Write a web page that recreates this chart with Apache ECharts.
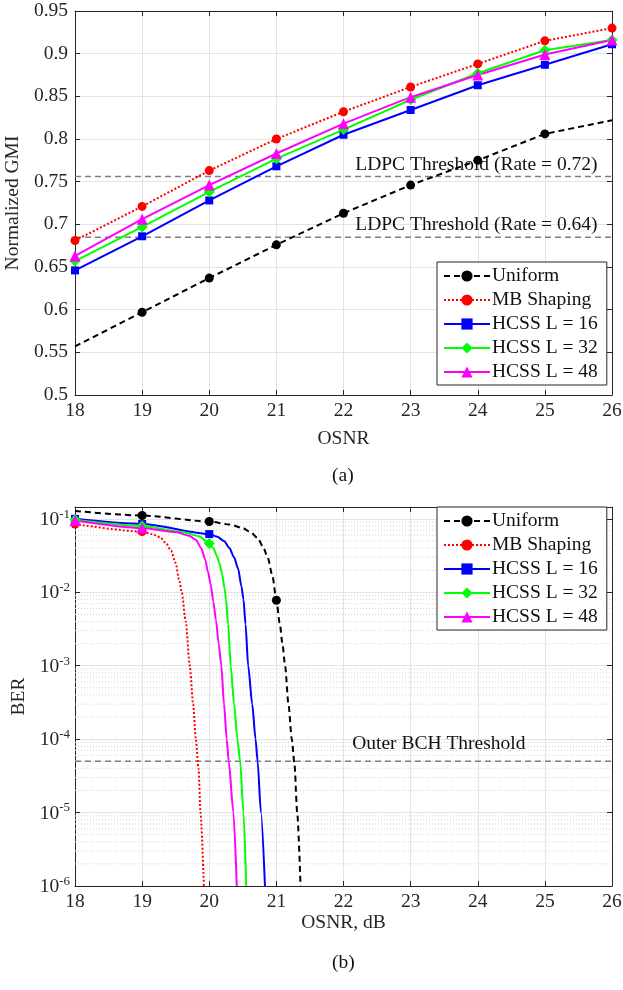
<!DOCTYPE html>
<html>
<head>
<meta charset="utf-8">
<script src="https://cdn.jsdelivr.net/npm/echarts@6/dist/echarts.min.js"></script>
<style>
html,body{margin:0;padding:0;background:#fff;}
#c{width:623px;height:990px;}
</style>
</head>
<body>
<div id="c"></div>
<script>
// ---------- Data: (a) Normalized GMI ----------
var osnr = [18, 19, 20, 21, 22, 23, 24, 25, 26];
var gmiUniform = [0.557, 0.597, 0.637, 0.676, 0.713, 0.746, 0.775, 0.806, 0.822];
var gmiMB      = [0.681, 0.721, 0.763, 0.800, 0.832, 0.861, 0.888, 0.915, 0.930];
var gmiL16     = [0.646, 0.686, 0.728, 0.768, 0.805, 0.834, 0.863, 0.887, 0.911];
var gmiL32     = [0.657, 0.697, 0.738, 0.777, 0.811, 0.846, 0.877, 0.904, 0.916];
var gmiL48     = [0.663, 0.706, 0.746, 0.783, 0.818, 0.849, 0.875, 0.899, 0.916];
var uniformMarkerX = [19, 20, 21, 22, 23, 24, 25];
var ldpcThresholds = [0.756, 0.685];
var ldpcLabels = ['LDPC Threshold (Rate = 0.72)', 'LDPC Threshold (Rate = 0.64)'];
var ldpcLabelX = 23.98;

// ---------- Data: (b) BER ----------
var berUniform = [[18,0.128],[19,0.111],[20,0.092],[20.3,0.084],[20.5,0.075],[20.62,0.065],[20.72,0.055],[20.8,0.042],[20.87,0.03],[20.94,0.017],[21,0.0078],[21.05,0.0038],[21.09,0.002],[21.13,0.001],[21.18,3e-4],[21.23,1e-4],[21.27,4.5e-5],[21.31,1e-5],[21.36,1e-6]];
var berMB      = [[18,0.085],[19,0.067],[19.15,0.062],[19.27,0.056],[19.36,0.046],[19.43,0.037],[19.5,0.025],[19.55,0.015],[19.59,0.01],[19.65,0.004],[19.71,1e-3],[19.76,3e-4],[19.8,1e-4],[19.84,4e-5],[19.87,1e-5],[19.92,1e-6]];
var berL16     = [[18,0.1],[19,0.085],[20,0.062],[20.12,0.057],[20.22,0.05],[20.3,0.04],[20.37,0.03],[20.43,0.021],[20.48,0.012],[20.51,0.008],[20.54,0.0037],[20.58,1e-3],[20.64,3e-4],[20.69,1e-4],[20.72,5e-5],[20.77,1e-5],[20.83,1e-6]];
var berL32     = [[18,0.097],[19,0.08],[19.6,0.066],[19.85,0.058],[20,0.046],[20.06,0.04],[20.11,0.032],[20.15,0.025],[20.19,0.018],[20.23,0.011],[20.25,0.008],[20.28,0.0037],[20.32,1e-3],[20.37,3e-4],[20.42,1e-4],[20.46,5e-5],[20.51,1e-5],[20.55,1e-6]];
var berL48     = [[18,0.095],[19,0.075],[19.5,0.066],[19.7,0.059],[19.8,0.052],[19.88,0.04],[19.94,0.028],[19.98,0.019],[20.02,0.013],[20.06,0.0075],[20.1,0.0042],[20.14,0.002],[20.18,1e-3],[20.22,3e-4],[20.26,1e-4],[20.29,5e-5],[20.36,1e-5],[20.41,1e-6]];
var berMarkers = {
  'Uniform': [19, 20, 21],
  'MB Shaping': [18, 19],
  'HCSS L = 16': [18, 19, 20],
  'HCSS L = 32': [18, 19, 20],
  'HCSS L = 48': [18, 19, 20]
};
var bchThreshold = 5e-5;
var bchLabel = 'Outer BCH Threshold';
var bchLabelX = 23.42;
var xTickMin = 18, xTickMax = 26;
var berMin = 1e-6, berMax = 0.145;
var logDecades = [-6, -5, -4, -3, -2, -1];

// ---------- Styles ----------
var FONT = 'Liberation Serif';
var FS = 19.5;
var names = ['Uniform', 'MB Shaping', 'HCSS L = 16', 'HCSS L = 32', 'HCSS L = 48'];
var styles = {
  'Uniform':     {color:'#000000', type:[6,4], symbol:'circle', size:9},
  'MB Shaping':  {color:'#ff0000', type:[2,2], symbol:'circle', size:9},
  'HCSS L = 16': {color:'#0000ff', type:'solid', symbol:'rect', size:8},
  'HCSS L = 32': {color:'#00ff00', type:'solid', symbol:'diamond', size:11},
  'HCSS L = 48': {color:'#ff00ff', type:'solid', symbol:'triangle', size:11}
};
var gridColor = '#e3e3e3';

function topData(name, vals) {
  return vals.map(function (v, i) {
    var x = osnr[i];
    var show = name === 'Uniform' ? uniformMarkerX.indexOf(x) >= 0 : true;
    return show ? {value:[x, v]} : {value:[x, v], symbol:'none'};
  });
}
function botData(name, pts) {
  var mk = berMarkers[name];
  return pts.map(function (p) {
    return mk.indexOf(p[0]) >= 0 ? {value:p} : {value:p, symbol:'none'};
  });
}
function mkSeries(name, data, xi, yi, smooth) {
  var s = styles[name];
  return {
    name: name, type: 'line', xAxisIndex: xi, yAxisIndex: yi,
    data: data, symbol: s.symbol, symbolSize: s.size, showAllSymbol: true,
    smooth: smooth ? 0.25 : false, smoothMonotone: smooth ? 'x' : undefined,
    lineStyle: {color: s.color, width: 2, type: s.type},
    itemStyle: {color: s.color, borderWidth: 0},
    emphasis: {disabled: true}, animation: false, z: 5
  };
}
function hLines(values, xi, yi, style, z) {
  var d = [];
  values.forEach(function (v) { d.push([xTickMin, v], [xTickMax, v], [xTickMin, '-']); });
  return {
    type: 'line', xAxisIndex: xi, yAxisIndex: yi, data: d, symbol: 'none', silent: true,
    connectNulls: false, lineStyle: style, z: z, animation: false, emphasis: {disabled: true}, tooltip: {show: false}
  };
}

var series = [];
var topVals = {'Uniform': gmiUniform, 'MB Shaping': gmiMB, 'HCSS L = 16': gmiL16, 'HCSS L = 32': gmiL32, 'HCSS L = 48': gmiL48};
var botVals = {'Uniform': berUniform, 'MB Shaping': berMB, 'HCSS L = 16': berL16, 'HCSS L = 32': berL32, 'HCSS L = 48': berL48};
names.forEach(function (n) { series.push(mkSeries(n, topData(n, topVals[n]), 0, 0, false)); });
names.forEach(function (n) { series.push(mkSeries(n, botData(n, botVals[n]), 2, 2, true)); });

var thrStyle = {color: '#808080', width: 1.5, type: [6, 4]};
// threshold lines (a)
var thrA = hLines(ldpcThresholds, 0, 0, thrStyle, 3);
thrA.markPoint = {
  silent: true, symbol: 'circle', symbolSize: 0, animation: false,
  label: {show: true, position: 'top', distance: 2, color: '#111', fontFamily: FONT, fontSize: FS},
  data: ldpcThresholds.map(function (t, i) {
    return {coord: [ldpcLabelX, t], label: {formatter: ldpcLabels[i]}};
  })
};
series.push(thrA);

// minor grid (b)
var minorVals = [];
logDecades.forEach(function (e) {
  for (var k = 2; k <= 9; k++) {
    var v = k * Math.pow(10, e);
    if (v < berMax) minorVals.push(v);
  }
});
series.push(hLines(minorVals, 2, 2, {color: '#d2d2d2', width: 1, type: [1, 2]}, 1));

// BCH threshold (b)
var thrB = hLines([bchThreshold], 2, 2, thrStyle, 3);
thrB.markPoint = {
  silent: true, symbol: 'circle', symbolSize: 0, animation: false,
  label: {show: true, position: 'top', distance: 7, color: '#111', fontFamily: FONT, fontSize: FS, formatter: bchLabel},
  data: [{coord: [bchLabelX, bchThreshold]}]
};
series.push(thrB);

var axisTextStyle = {color: '#262626', fontFamily: FONT, fontSize: FS};
function xAx(gi, pos, labels, name, gap) {
  return {
    type: 'value', gridIndex: gi, position: pos, min: xTickMin, max: xTickMax, interval: 1,
    axisLine: {show: true, onZero: false, lineStyle: {color: '#262626', width: 1}},
    axisTick: {show: true, inside: true, length: 5, lineStyle: {color: '#262626'}},
    axisLabel: labels ? Object.assign({show: true, margin: 6}, axisTextStyle) : {show: false},
    splitLine: {show: labels, lineStyle: {color: gridColor, width: 1}},
    name: name || '', nameLocation: 'middle', nameGap: gap || 30, nameTextStyle: axisTextStyle
  };
}
var yTop = function (pos, labels) {
  return {
    type: 'value', gridIndex: 0, position: pos, min: 0.5, max: 0.95, interval: 0.05,
    axisLine: {show: true, lineStyle: {color: '#262626', width: 1}},
    axisTick: {show: true, inside: true, length: 5, lineStyle: {color: '#262626'}},
    axisLabel: labels ? Object.assign({show: true, margin: 7, formatter: function (v) { return String(+v.toFixed(2)); }}, axisTextStyle) : {show: false},
    splitLine: {show: labels, lineStyle: {color: gridColor, width: 1}},
    name: labels ? 'Normalized GMI' : '', nameLocation: 'middle', nameGap: 44, nameRotate: 90, nameTextStyle: axisTextStyle
  };
};
var yBot = function (pos, labels) {
  return {
    type: 'log', logBase: 10, gridIndex: 1, position: pos, min: berMin, max: berMax, interval: 1,
    axisLine: {show: true, lineStyle: {color: '#262626', width: 1}},
    axisTick: {show: true, inside: true, length: 5, lineStyle: {color: '#262626'}},
    axisLabel: labels ? {
      show: true, margin: 5, color: '#262626', fontFamily: FONT,
      formatter: function (v) {
        var l = Math.log10(v), e = Math.round(l);
        if (Math.abs(l - e) > 1e-6) return '';
        return '{b|10}{s|' + e + '}';
      },
      rich: {
        b: {fontFamily: FONT, fontSize: FS, color: '#262626', lineHeight: 22, verticalAlign: 'bottom'},
        s: {fontFamily: FONT, fontSize: 13, color: '#262626', lineHeight: 22, verticalAlign: 'top'}
      }
    } : {show: false},
    splitLine: {show: labels, lineStyle: {color: gridColor, width: 1}},
    name: labels ? 'BER' : '', nameLocation: 'middle', nameGap: 46, nameRotate: 90, nameTextStyle: axisTextStyle
  };
};

function legendCfg(top) {
  return {
    data: names, orient: 'vertical', left: 437, top: top,
    backgroundColor: '#fff', borderColor: '#262626', borderWidth: 1,
    padding: [4, 9, 3, 6], itemGap: 4, itemWidth: 46, itemHeight: 14,
    textStyle: {fontFamily: FONT, fontSize: FS, color: '#111', padding: [0, 0, 0, -3]},
    selectedMode: false
  };
}

var option = {
  animation: false,
  backgroundColor: '#fff',
  grid: [
    {left: 75, top: 11, width: 537, height: 384, containLabel: false, outerBoundsMode: 'none'},
    {left: 75, top: 507, width: 537, height: 379, containLabel: false, outerBoundsMode: 'none'}
  ],
  xAxis: [xAx(0, 'bottom', true, 'OSNR', 34), xAx(0, 'top', false), xAx(1, 'bottom', true, 'OSNR, dB', 25), xAx(1, 'top', false)],
  yAxis: [yTop('left', true), yTop('right', false), yBot('left', true), yBot('right', false)],
  legend: [legendCfg(262), legendCfg(507)],
  series: series,
  graphic: [
    {type: 'text', left: 332, top: 466, style: {text: '(a)', font: FS + 'px "Liberation Serif"', fill: '#111'}},
    {type: 'text', left: 332, top: 953, style: {text: '(b)', font: FS + 'px "Liberation Serif"', fill: '#111'}}
  ]
};

var chart = echarts.init(document.getElementById('c'), null, {renderer: 'canvas'});
chart.setOption(option);
</script>
</body>
</html>
